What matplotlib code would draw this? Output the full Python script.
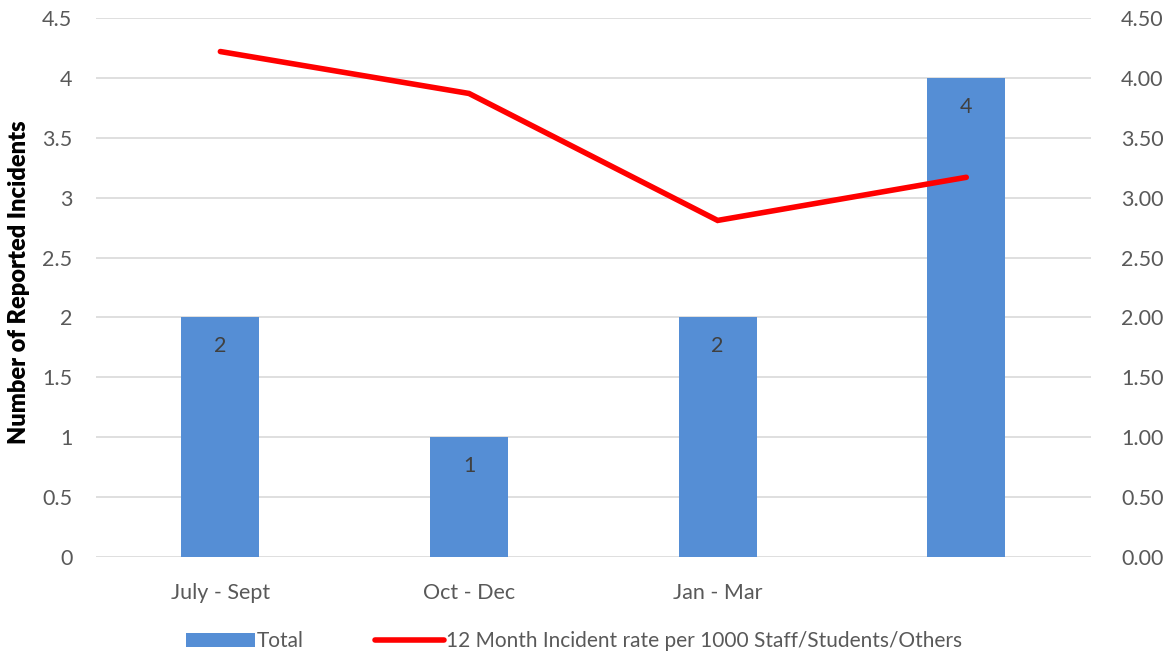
import matplotlib.pyplot as plt
import numpy as np

plt.rcParams['font.family'] = ['Lato', 'DejaVu Sans']

# --- Datos ---
categorias = ["July - Sept", "Oct - Dec", "Jan - Mar", ""]
total = [2, 1, 2, 4]
tasa_12m = [4.22, 3.87, 2.81, 3.17]

azul = '#558ed5'
rojo = '#ff0000'
gris_texto = '#595959'

fig = plt.figure(figsize=(11.67, 6.57), dpi=100)
ax = fig.add_axes([0.0823, 0.1522, 0.8522, 0.8204])
ax2 = ax.twinx()

x = np.arange(len(categorias))
barras = ax.bar(x, total, width=0.313, color=azul, zorder=3, label='Total')
for b, v in zip(barras, total):
    ax.text(b.get_x() + b.get_width() / 2, v - 0.24, str(v), ha='center', va='center',
            fontsize=15.5, color='#404040', zorder=4)

ax2.plot(x, tasa_12m, color=rojo, lw=4, solid_capstyle='round', solid_joinstyle='miter',
         label='12 Month Incident rate per 1000 Staff/Students/Others')

ax.set_xlim(-0.5, len(categorias) - 0.5)
ax.set_ylim(0, 4.5)
ax2.set_ylim(0, 4.5)
ax.set_yticks(np.arange(0, 4.51, 0.5))
ax.set_yticklabels([f"{v:g}" for v in np.arange(0, 4.51, 0.5)])
ax2.set_yticks(np.arange(0, 4.51, 0.5))
ax2.set_yticklabels([f"{v:.2f}" for v in np.arange(0, 4.51, 0.5)])
ax.set_xticks(x)
ax.set_xticklabels(categorias)

ax.grid(axis='y', color='#d9d9d9', lw=1.2, zorder=0)
for a in (ax, ax2):
    for s in a.spines.values():
        s.set_visible(False)
    a.tick_params(length=0, labelsize=15.5, labelcolor=gris_texto)
ax.tick_params(axis='y', pad=17)
ax2.tick_params(axis='y', pad=22)
ax.tick_params(axis='x', pad=19)

fig.text(0.0165, 0.57, "Number of Reported Incidents", rotation=90, ha='center', va='center',
         fontsize=17, fontweight='heavy', color='black')

h1, l1 = ax.get_legend_handles_labels()
h2, l2 = ax2.get_legend_handles_labels()
fig.legend(h1 + h2, l1 + l2, loc='center', bbox_to_anchor=(0.492, 0.024), ncol=2, frameon=False,
           fontsize=15, labelcolor=gris_texto, handlelength=3.3, handletextpad=0.1,
           columnspacing=3.4)

plt.savefig("out.png", dpi=100)
